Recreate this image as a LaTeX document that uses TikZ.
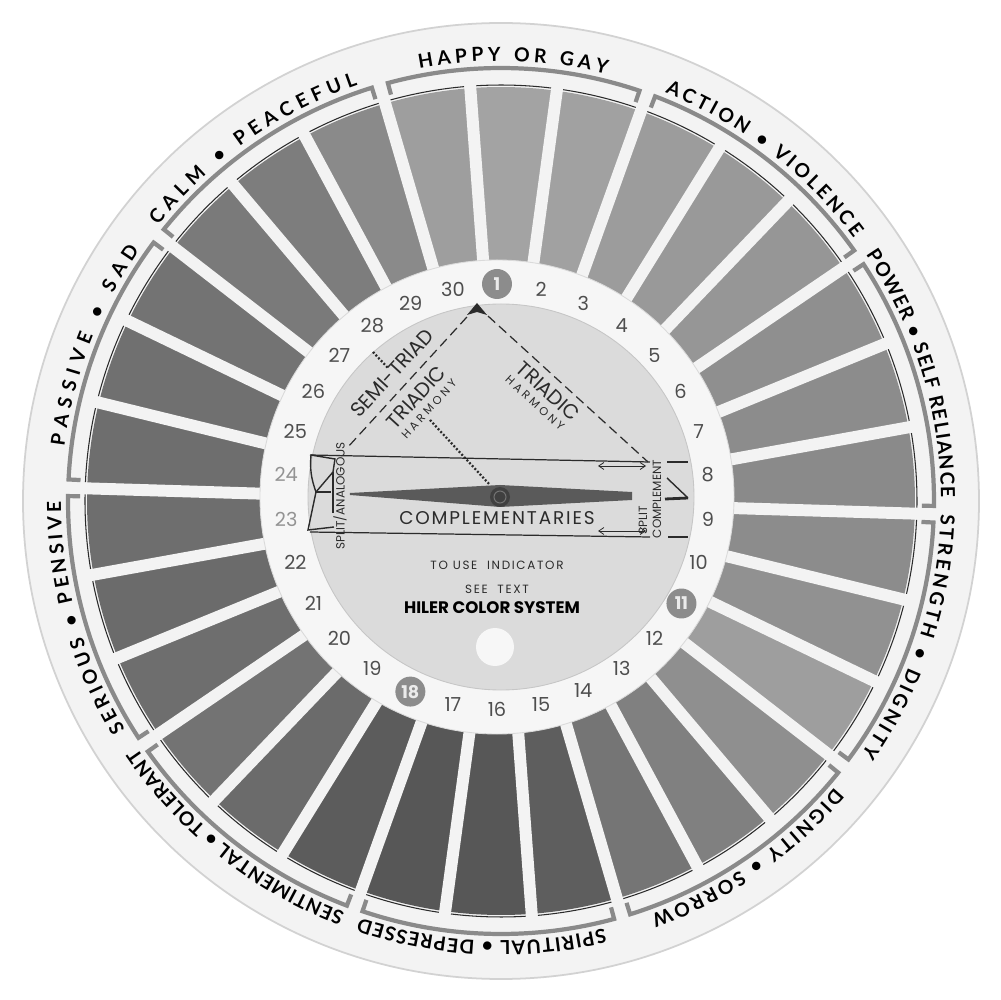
\documentclass[tikz,border=0pt]{standalone}
\usepackage{fontspec}
\usetikzlibrary{decorations.text,arrows.meta}
\newfontfamily\pop{Poppins}
\newfontfamily\popwide{Poppins}[LetterSpace=28]
\newfontfamily\popmid{Poppins}[LetterSpace=10]
\newfontfamily\popuse{Poppins}[LetterSpace=14]
\newfontfamily\lato{Lato}
\newcommand\labfont{\lato\bfseries\fontsize{11}{13}\selectfont}
\newcommand\numfont{\pop\fontsize{11}{12}\selectfont}
\newcommand\numfontb{\pop\bfseries\fontsize{10}{11}\selectfont}
\newcommand\fsemi{\pop\fontsize{11.5}{13}\selectfont}
\newcommand\fharm{\popwide\fontsize{6.5}{8}\selectfont}
\newcommand\fsplit{\pop\fontsize{6.8}{8}\selectfont}
\newcommand\fcomp{\popmid\fontsize{10.5}{12}\selectfont}
\newcommand\fuse{\popuse\fontsize{6.8}{8}\selectfont}
\newcommand\fhiler{\pop\bfseries\fontsize{9.5}{11}\selectfont}
\definecolor{discfill}{HTML}{F3F3F3}
\definecolor{discedge}{HTML}{D2D2D2}
\definecolor{numfill}{HTML}{F6F6F6}
\definecolor{numedge}{HTML}{DADADA}
\definecolor{indfill}{HTML}{DBDBDB}
\definecolor{indedge}{HTML}{C6C6C6}
\definecolor{ink}{HTML}{2B2B2B}
\definecolor{numink}{HTML}{4E4E4E}
\definecolor{fadedink}{HTML}{939393}
\definecolor{bracketc}{HTML}{8A8A8A}
\definecolor{dotc}{HTML}{8C8C8C}
\definecolor{needlec}{HTML}{5A5A5A}
\newcommand\arclabel[3]{%
  \path[decorate,decoration={text along path,text align=fit to path,text={|\labfont|#3}}]
    (#1:440) arc[start angle=#1,end angle=#2,radius=440];}
\tikzset{
  spoke/.style={draw=discfill, line width=6.8pt},
  segedge/.style={draw=ink, line width=0.6pt},
  bracketline/.style={draw=bracketc, line width=2.4pt},
  numtxt/.style={font=\numfont, text=numink, inner sep=0pt},
  fadednum/.style={font=\numfont, text=fadedink, inner sep=0pt},
  circnum/.style={circle, fill=dotc, minimum size=0.6cm, inner sep=0pt, font=\numfontb, text=white!92!black},
  dashln/.style={draw=ink, line width=0.7pt, dash pattern=on 5.5pt off 3pt},
  dotln/.style={draw=ink, line width=1.3pt, dash pattern=on 1.1pt off 1.1pt},
  solidln/.style={draw=ink, line width=0.7pt},
  markln/.style={draw=ink, line width=0.8pt},
  dblarrow/.style={draw=ink, line width=0.45pt, arrows={Straight Barb[length=3pt,width=4pt]-Straight Barb[length=3pt,width=4pt]}},
  intext/.style={text=ink, inner sep=0pt},
}
\begin{document}
\begin{tikzpicture}[x=0.02cm,y=0.02cm]
\useasboundingbox (-500,-500) rectangle (500,500);
\fill[white] (-500,-500) rectangle (500,500);
% outer wheel
\begin{scope}[shift={(1,-1)}]
  \fill[discfill] (0,0) circle[radius=478];
  \draw[discedge, line width=1pt] (0,0) circle[radius=478];
  \foreach \k/\x in {0/36,1/37,2/39,3/40,4/41,5/44,6/45,7/46,8/45,9/43,10/38,11/44,12/50,13/54,14/63,15/66,16/66,17/64,18/58,19/55,20/57,21/58,22/57,23/57,24/56,25/55,26/52,27/51,28/46,29/38}{
    \pgfmathsetmacro\a{94.25-12*\k}
    \pgfmathsetmacro\b{82.25-12*\k}
    \fill[black!\x] (\a:200) arc[start angle=\a,end angle=\b,radius=200] -- (\b:414) arc[start angle=\b,end angle=\a,radius=414] -- cycle;
  }
  \foreach \k in {0,...,29}{
    \pgfmathsetmacro\s{82.25-12*\k}
    \draw[spoke] (\s:195) -- (\s:421);
  }
  \foreach \k in {0,...,29}{
    \pgfmathsetmacro\c{94.25-12*\k-0.85}
    \pgfmathsetmacro\d{82.25-12*\k+0.85}
    \draw[segedge] (\c:416) arc[start angle=\c,end angle=\d,radius=416];
  }
  \foreach \g in {0,...,9}{
    \pgfmathsetmacro\p{88.25-36*\g+16.9}
    \pgfmathsetmacro\q{88.25-36*\g-16.9}
    \draw[bracketline] (\p:421) -- (\p:433) arc[start angle=\p,end angle=\q,radius=433] -- (\q:421);
  }
  \arclabel{100.7}{76.1}{HAPPY OR GAY}
  \arclabel{68.1}{36.7}{ACTION • VIOLENCE}
  \arclabel{34.0}{0.5}{POWER • SELF RELIANCE}
  \arclabel{-1.7}{-35.0}{STRENGTH • DIGNITY}
  \arclabel{-40.7}{-70.1}{DIGNITY • SORROW}
  \arclabel{-76.4}{-108.7}{SPIRITUAL • DEPRESSED}
  \arclabel{-110.8}{-145.8}{SENTIMENTAL • TOLERANT}
  \arclabel{-148.7}{-179.9}{SERIOUS • PENSIVE}
  \arclabel{-187.1}{-214.8}{PASSIVE • SAD}
  \arclabel{-218.8}{-251.0}{CALM • PEACEFUL}
\end{scope}
% number disc
\begin{scope}[shift={(-3,3)}]
  \fill[numfill] (0,0) circle[radius=237];
  \draw[numedge, line width=0.5pt] (0,0) circle[radius=237];
  \foreach \n in {2,3,4,5,6,7,8,9,10,12,13,14,15,16,17,19,20,21,22,25,26,27,28,29,30}{
    \pgfmathsetmacro\t{90-12*(\n-1)}
    \node[numtxt] (num\n) at (\t:212) {\n};
  }
  \foreach \n in {23,24}{
    \pgfmathsetmacro\t{90-12*(\n-1)}
    \node[fadednum] (num\n) at (\t:212) {\n};
  }
  \foreach \n in {1,11,18}{
    \pgfmathsetmacro\t{90-12*(\n-1)}
    \node[circnum] (num\n) at (\t:213) {\n};
  }
\end{scope}
% indicator disc
\fill[indfill] (1,3) circle[radius=193];
\draw[indedge, line width=0.5pt] (1,3) circle[radius=193];
% triangle
\coordinate (apex) at (-23,194);
\coordinate (lend) at (-152,53);
\coordinate (rend) at (148,38);
\draw[dashln] (apex) -- (lend);
\draw[dashln] (apex) -- (rend);
\fill[ink] (-23,197) -- (-13,185) -- (-23,188) -- (-33,185) -- cycle;
\coordinate (semiA) at (-127,148);
\coordinate (semiB) at (-112,132);
\draw[dotln] (semiA) -- (semiB);
\coordinate (ptrA) at (-70,80);
\coordinate (ptrB) at (-10,15);
\draw[dotln] (ptrA) -- (ptrB);
% horizontal lines
\coordinate (htl) at (-190,45);
\coordinate (htr) at (150,38);
\coordinate (hbl) at (-190,-32);
\coordinate (hbr) at (150,-37);
\draw[solidln] (htl) -- (htr);
\draw[solidln] (hbl) -- (hbr);
\coordinate (ttA) at (167,38);
\coordinate (ttB) at (188,38);
\coordinate (tbA) at (168,-37);
\coordinate (tbB) at (188,-37);
\draw[markln, line width=1.1pt] (ttA) -- (ttB);
\draw[markln, line width=1.1pt] (tbA) -- (tbB);
\coordinate (daA) at (98,34);
\coordinate (daB) at (146,34);
\coordinate (dbA) at (98,-31);
\coordinate (dbB) at (146,-31);
\draw[dblarrow] (daA) -- (daB);
\draw[dblarrow] (dbA) -- (dbB);
% right pointer mark
\coordinate (rpA) at (167,22);
\coordinate (rpT) at (188,2);
\coordinate (rpB) at (165,1);
\draw[markln] (rpA) -- (rpT);
\draw[markln, line width=1.6pt] (rpB) -- (rpT);
% left mark
\coordinate (P1) at (-189,45);
\coordinate (P2) at (-165,41);
\coordinate (P3) at (-184,8);
\coordinate (P4) at (-169,8);
\coordinate (P5) at (-167,28);
\coordinate (P6) at (-192,-30);
\coordinate (P7) at (-166,-27);
\coordinate (P8) at (-167,-13);
\draw[markln] (P1) -- (P2) -- (P5) -- (P3);
\draw[markln] (P1) to[bend right=12] (P3);
\draw[markln] (P3) -- (P4);
\draw[markln, line width=1.3pt] (P5) -- (P8);
\draw[markln] (P3) -- (P6) -- (P7);
% needle
\fill[needlec] (-150,7) -- (0,15) -- (132,8) -- (132,0) -- (0,-7) -- (-150,5) -- cycle;
\fill[black!75] (0,3) circle[radius=10];
\draw[black!55, line width=0.6pt] (0,3) circle[radius=6];
% texts
\node[intext, font=\fsemi, rotate=47.5] (semi) at (-108,127) {SEMI-TRIAD};
\node[intext, font=\fsemi, rotate=47.5] (tril) at (-84,103) {TRIADIC};
\node[intext, font=\fharm, rotate=47.5] (harl) at (-71,91) {HARMONY};
\node[intext, font=\fsemi, rotate=-42.4] (trir) at (48,109) {TRIADIC};
\node[intext, font=\fharm, rotate=-42.4] (harr) at (35,97) {HARMONY};
\node[intext, font=\fsplit, rotate=90] (splan) at (-160,4) {SPLIT/ANALOGOUS};
\node[intext, font=\fsplit, rotate=90] (split) at (143,-20) {SPLIT};
\node[intext, font=\fsplit, rotate=90] (compl) at (157,1) {COMPLEMENT};
\node[intext, font=\fcomp] (comps) at (-3,-18) {COMPLEMENTARIES};
\node[intext, font=\fuse] (touse) at (-3,-65) {TO USE\ \ INDICATOR};
\node[intext, font=\fuse] (seetext) at (-3,-89) {SEE\ \ TEXT};
\node[text=black, inner sep=0pt, font=\fhiler] (hiler) at (-8,-108) {HILER COLOR SYSTEM};
\fill[white!97!black] (-5,-147) circle[radius=19];
\end{tikzpicture}
\end{document}
